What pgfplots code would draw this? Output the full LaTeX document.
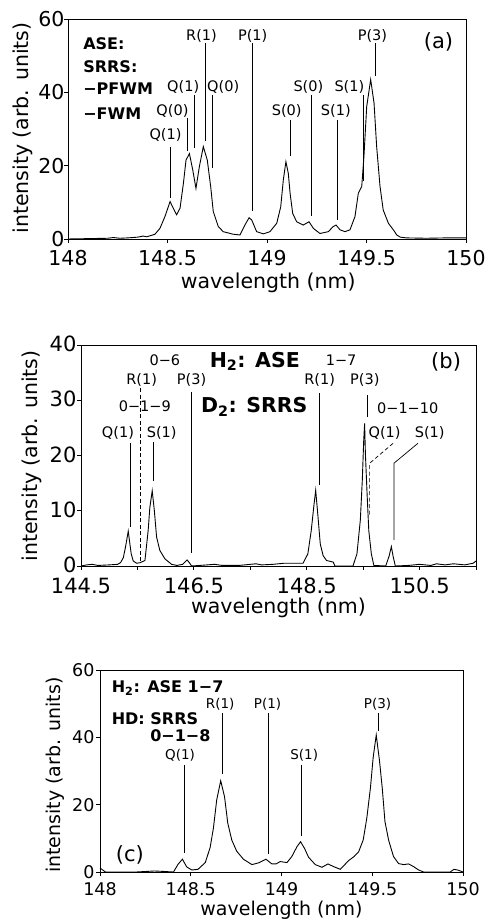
\documentclass[border=0pt]{standalone}
\usepackage{pgfplots}
\pgfplotsset{compat=1.18}
\usepackage{fontspec}
\setmainfont{DejaVu Sans}

\newcommand\fs[1]{\fontsize{#1}{#1}\selectfont}

\pgfplotsset{
  spec/.style={
    scale only axis, clip=false,
    tick align=outside, xtick pos=left, ytick pos=left,
    major tick length=4pt,
    axis line style={line width=0.8pt},
    every tick/.style={line width=0.8pt, black},
    ymin=0,
    xlabel={wavelength (nm)},
    ylabel={intensity (arb. units)},
  },
  curve/.style={black, line width=0.9pt, no marks},
}
\tikzset{ann/.style={black, line width=0.7pt}}

% spectra
\pgfplotstableread{
lam I
148.000 0.0
148.100 0.1
148.200 0.2
148.228 0.4
148.260 0.2
148.300 0.3
148.350 0.5
148.378 0.8
148.395 0.6
148.420 1.0
148.437 1.3
148.462 2.9
148.487 6.1
148.513 10.2
148.529 8.4
148.546 6.6
148.563 8.4
148.580 15.2
148.593 21.5
148.610 23.3
148.627 18.8
148.643 13.8
148.660 19.7
148.680 25.2
148.700 21.5
148.717 14.3
148.730 7.5
148.755 3.4
148.780 2.0
148.830 1.3
148.864 1.1
148.889 3.8
148.910 5.8
148.923 5.2
148.948 2.0
148.982 1.4
149.015 2.0
149.049 4.3
149.069 8.8
149.082 16.1
149.095 21.1
149.107 17.9
149.116 12.5
149.129 7.0
149.149 4.7
149.182 3.8
149.211 4.7
149.233 2.9
149.266 1.5
149.308 2.0
149.333 3.4
149.347 3.8
149.367 2.5
149.392 2.0
149.417 2.5
149.442 6.1
149.459 12.5
149.476 14.3
149.487 22.4
149.501 36.1
149.521 43.5
149.538 37.0
149.551 25.2
149.568 14.3
149.584 7.9
149.610 4.3
149.635 2.5
149.652 1.1
149.670 0.5
149.700 0.3
149.800 0.2
149.900 0.3
150.000 0.3
}\specA

\pgfplotstableread{
lam I
144.50 0.0
144.60 0.2
144.70 0.3
144.80 0.1
145.00 0.2
145.15 0.3
145.20 0.6
145.25 1.5
145.29 3.5
145.337 6.3
145.36 4.5
145.39 2.2
145.426 0.9
145.485 0.5
145.55 0.6
145.633 1.0
145.69 6.4
145.72 10.6
145.762 13.6
145.80 10.0
145.84 5.2
145.898 2.8
145.987 1.3
146.105 0.3
146.20 0.1
146.30 0.3
146.36 0.9
146.38 1.1
146.42 0.6
146.46 0.0
146.60 0.1
146.87 0.3
147.00 0.1
147.30 0.1
147.60 0.4
147.70 0.2
147.90 0.3
148.10 0.5
148.35 0.5
148.435 0.5
148.52 2.2
148.58 6.4
148.63 11.2
148.659 13.7
148.70 8.9
148.74 4.0
148.79 1.9
148.85 1.0
148.97 0.7
149.00 0.0
149.32 0.0
149.39 2.2
149.45 8.3
149.485 15.5
149.51 22.7
149.526 25.8
149.54 20.3
149.57 13.0
149.60 6.4
149.645 2.2
149.69 0.1
149.90 0.0
149.96 1.8
150.00 3.5
150.03 1.8
150.07 0.0
150.30 0.1
150.50 0.3
150.70 0.1
150.80 0.4
150.95 0.2
151.10 0.4
151.30 0.2
151.45 0.5
151.50 0.9
}\specB

\pgfplotstableread{
lam I
148.000 1.2
148.015 0.6
148.030 0.0
148.200 0.0
148.300 0.3
148.340 0.2
148.405 0.0
148.430 2.3
148.454 3.8
148.478 1.5
148.506 0.6
148.540 0.8
148.580 2.8
148.607 7.3
148.625 13.1
148.643 21.4
148.665 27.1
148.686 22.4
148.704 14.5
148.726 9.5
148.753 6.2
148.790 3.8
148.837 2.2
148.873 2.7
148.914 3.8
148.947 2.4
148.970 2.4
148.993 3.1
149.030 2.8
149.057 4.6
149.085 7.5
149.105 9.0
149.127 7.0
149.149 4.4
149.186 2.2
149.223 1.4
149.256 2.4
149.287 1.6
149.324 0.8
149.370 3.4
149.400 4.6
149.425 6.0
149.450 9.5
149.470 16.0
149.490 25.0
149.505 34.0
149.522 40.7
149.540 33.0
149.555 25.0
149.570 15.0
149.590 9.5
149.617 4.6
149.645 2.5
149.673 2.2
149.700 2.4
149.728 1.6
149.755 0.6
149.783 0.0
149.930 0.0
149.950 0.8
149.970 0.6
150.000 0.0
}\specC

\begin{document}
\begin{tikzpicture}
\path[use as bounding box] (0,0) rectangle (487pt,921pt);

% ---------------- (a)
\begin{axis}[spec, at={(68pt,682pt)}, anchor=south west,
  width=398pt, height=220pt,
  xmin=148, xmax=150, ymax=60,
  xtick={148,148.5,149,149.5,150}, xticklabels={148,148.5,149,149.5,150},
  ytick={0,20,40,60}, yticklabels={0,20,40,60},
  ticklabel style={font=\fs{20.5}},
  xticklabel style={yshift=-3.5pt},
  yticklabel style={xshift=4pt},
  label style={font=\fs{20.5}},
  xlabel style={at={(axis description cs:0.503,-0.2)}, anchor=center},
  ylabel style={at={(axis description cs:-0.113,0.505)}, anchor=center},
]
\addplot[curve] table[x=lam, y=I] {\specA};
\begin{scope}[every node/.style={font=\fs{14.5}}]
\node at (axis cs:148.49,28.4) {Q(1)};
\draw[ann] (axis cs:148.515,25.2) -- (axis cs:148.515,11.2);
\node at (axis cs:148.525,35.0) {Q(0)};
\draw[ann] (axis cs:148.599,32.9) -- (axis cs:148.599,23.9);
\node at (axis cs:148.579,41.4) {Q(1)};
\draw[ann] (axis cs:148.633,39.3) -- (axis cs:148.633,24.8);
\node at (axis cs:148.671,55.4) {R(1)};
\draw[ann] (axis cs:148.688,53.4) -- (axis cs:148.688,26.6);
\node at (axis cs:148.78,41.4) {Q(0)};
\draw[ann] (axis cs:148.727,39.3) -- (axis cs:148.727,19.3);
\node at (axis cs:148.928,55.4) {P(1)};
\draw[ann] (axis cs:148.926,53.4) -- (axis cs:148.926,7.5);
\node at (axis cs:149.099,34.8) {S(0)};
\draw[ann] (axis cs:149.116,32.5) -- (axis cs:149.116,22.7);
\node at (axis cs:149.208,41.4) {S(0)};
\draw[ann] (axis cs:149.225,39.3) -- (axis cs:149.225,6.2);
\node at (axis cs:149.346,34.8) {S(1)};
\draw[ann] (axis cs:149.356,32.5) -- (axis cs:149.356,5.3);
\node at (axis cs:149.414,41.4) {S(1)};
\draw[ann] (axis cs:149.485,39.3) -- (axis cs:149.485,15.7);
\node at (axis cs:149.53,55.4) {P(3)};
\draw[ann] (axis cs:149.544,53.4) -- (axis cs:149.544,44.5);
\end{scope}
\node[font=\fs{21}] at (axis cs:149.862,53.8) {(a)};
\begin{scope}[every node/.style={font=\fs{16}\bfseries, anchor=west, inner sep=0pt}]
\node at (axis cs:148.076,53.4) {ASE:};
\node at (axis cs:148.076,47.0) {SRRS:};
\node at (axis cs:148.076,41.1) {−PFWM};
\node at (axis cs:148.076,34.3) {−FWM};
\end{scope}
\end{axis}

% ---------------- (b)
\begin{axis}[spec, at={(81pt,355pt)}, anchor=south west,
  width=395pt, height=221pt,
  xmin=144.5, xmax=151.5, ymax=40,
  xtick={144.5,145.5,...,151.5}, xticklabels={144.5,,146.5,,148.5,,150.5,},
  ytick={0,10,20,30,40}, yticklabels={0,10,20,30,40},
  ticklabel style={font=\fs{21}},
  xticklabel style={yshift=-4.5pt},
  yticklabel style={xshift=3pt, yshift=1pt},
  label style={font=\fs{20.5}},
  xlabel style={at={(axis description cs:0.5,-0.19)}, anchor=center},
  ylabel style={at={(axis description cs:-0.124,0.498)}, anchor=center},
]
\addplot[curve] table[x=lam, y=I] {\specB};
\begin{scope}[every node/.style={font=\fs{14.5}}]
\node at (axis cs:145.155,24.1) {Q(1)};
\draw[ann] (axis cs:145.367,22.2) -- (axis cs:145.367,7.1);
\node at (axis cs:145.574,33.7) {R(1)};
\node at (axis cs:145.63,29.0) {0−1−9};
\draw[ann, dash pattern=on 4pt off 2.5pt] (axis cs:145.56,32.2) -- (axis cs:145.56,0.8);
\node at (axis cs:145.987,37.3) {0−6};
\node at (axis cs:145.93,24.0) {S(1)};
\draw[ann] (axis cs:145.79,22.5) -- (axis cs:145.79,15.3);
\node at (axis cs:146.46,33.7) {P(3)};
\draw[ann] (axis cs:146.447,31.5) -- (axis cs:146.447,2.3);
\node at (axis cs:149.11,37.3) {1−7};
\node at (axis cs:148.73,33.7) {R(1)};
\draw[ann] (axis cs:148.73,31.3) -- (axis cs:148.73,14.7);
\node at (axis cs:149.53,33.7) {P(3)};
\draw[ann] (axis cs:149.574,31) -- (axis cs:149.574,27);
\node at (axis cs:150.29,28.5) {0−1−10};
\node at (axis cs:149.88,24) {Q(1)};
\draw[ann, dash pattern=on 4pt off 2.5pt] (axis cs:150.03,22.2) -- (axis cs:149.615,18.6) -- (axis cs:149.615,9.2);
\node at (axis cs:150.68,24) {S(1)};
\draw[ann] (axis cs:150.47,22.2) -- (axis cs:150.046,18.6) -- (axis cs:150.046,4.7);
\end{scope}
\begin{scope}[every node/.style={font=\fs{20.5}\bfseries}]
\node at (axis cs:147.58,37) {H\textsubscript{2}: ASE};
\node at (axis cs:147.57,28.8) {D\textsubscript{2}: SRRS};
\end{scope}
\node[font=\fs{21}] at (axis cs:150.97,37) {(b)};
\end{axis}

% ---------------- (c)
\begin{axis}[spec, at={(100pt,49pt)}, anchor=south west,
  width=363pt, height=202pt,
  xmin=148, xmax=150, ymax=60,
  xtick={148,148.5,149,149.5,150}, xticklabels={148,148.5,149,149.5,150},
  ytick={0,20,40,60}, yticklabels={0,20,40,60},
  ticklabel style={font=\fs{17.5}},
  xticklabel style={yshift=-2.5pt},
  yticklabel style={xshift=2pt},
  label style={font=\fs{19}},
  xlabel style={at={(axis description cs:0.5,-0.188)}, anchor=center},
  ylabel style={at={(axis description cs:-0.124,0.48)}, anchor=center},
]
\addplot[curve] table[x=lam, y=I] {\specC};
\begin{scope}[every node/.style={font=\fs{13.5}}]
\node at (axis cs:148.441,34.8) {Q(1)};
\draw[ann] (axis cs:148.465,31.8) -- (axis cs:148.465,5.5);
\node at (axis cs:148.662,49.8) {R(1)};
\draw[ann] (axis cs:148.676,47.1) -- (axis cs:148.676,29.1);
\node at (axis cs:148.923,49.8) {P(1)};
\draw[ann] (axis cs:148.925,47.1) -- (axis cs:148.925,5.3);
\node at (axis cs:149.125,34.8) {S(1)};
\draw[ann] (axis cs:149.112,31.8) -- (axis cs:149.112,10.7);
\node at (axis cs:149.529,49.8) {P(3)};
\draw[ann] (axis cs:149.535,47.1) -- (axis cs:149.535,42);
\end{scope}
\begin{scope}[every node/.style={font=\fs{16}\bfseries, anchor=west, inner sep=0pt}]
\node at (axis cs:148.064,54.6) {H\textsubscript{2}: ASE 1−7};
\node at (axis cs:148.064,45.6) {HD: SRRS};
\node at (axis cs:148.276,40.4) {0−1−8};
\end{scope}
\node[font=\fs{21}] at (axis cs:148.165,5.0) {(c)};
\end{axis}
\end{tikzpicture}
\end{document}
